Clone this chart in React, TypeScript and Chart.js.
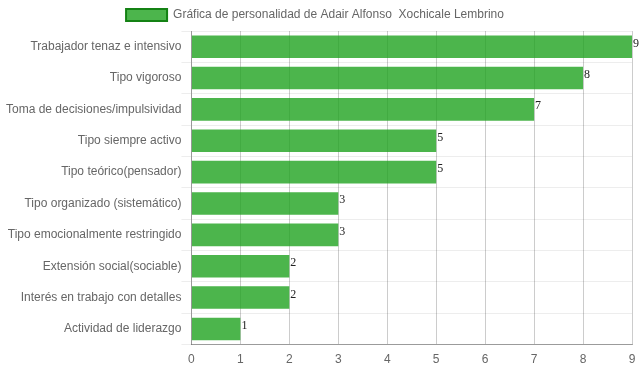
import React, { useEffect, useRef } from "react";
import { Chart, registerables } from "chart.js";

Chart.register(...registerables);

const categories = [
  "Trabajador tenaz e intensivo",
  "Tipo vigoroso",
  "Toma de decisiones/impulsividad",
  "Tipo siempre activo",
  "Tipo teórico(pensador)",
  "Tipo organizado (sistemático)",
  "Tipo emocionalmente restringido",
  "Extensión social(sociable)",
  "Interés en trabajo con detalles",
  "Actividad de liderazgo",
];
const values = [9, 8, 7, 5, 5, 3, 3, 2, 2, 1];
const seriesLabel = "Gráfica de personalidad de Adair Alfonso  Xochicale Lembrino";

const valueLabels = {
  id: "valueLabels",
  afterDatasetsDraw(chart: any) {
    const ctx = chart.ctx;
    const meta = chart.getDatasetMeta(0);
    ctx.save();
    ctx.font = "12px 'Liberation Serif', serif";
    ctx.fillStyle = "#222";
    ctx.textAlign = "left";
    ctx.textBaseline = "alphabetic";
    meta.data.forEach((bar: any, i: number) => {
      ctx.fillText(String(values[i]), bar.x + 1, bar.y);
    });
    ctx.restore();
  },
};

const legendShift = {
  id: "legendShift",
  afterLayout(chart: any) {
    if (chart.legend) {
      chart.legend.left -= 15;
    }
  },
};

const FONT = "'Liberation Sans', Arial, sans-serif";

export default function App() {
  const ref = useRef<HTMLCanvasElement>(null);
  useEffect(() => {
    if (!ref.current) return;
    const chart = new Chart(ref.current, {
      type: "bar",
      data: {
        labels: categories,
        datasets: [
          {
            label: seriesLabel,
            data: values,
            backgroundColor: "rgba(31,162,31,0.8)",
            borderColor: "rgb(20,130,20)",
            borderWidth: 0,
          },
        ],
      },
      options: {
        indexAxis: "y",
        animation: false,
        responsive: true,
        maintainAspectRatio: false,
        layout: { padding: { left: 6, right: 0, top: 1, bottom: -3 } },
        font: { family: FONT, size: 12 },
        color: "#666",
        plugins: {
          tooltip: { enabled: false },
          legend: {
            position: "top",
            labels: {
              color: "#666",
              boxWidth: 41,
              boxHeight: 12,
              padding: 8,
              font: { family: FONT, size: 12 },
              generateLabels: (chart: any) =>
                Chart.defaults.plugins.legend.labels
                  .generateLabels(chart)
                  .map((l: any) => ({ ...l, strokeStyle: "rgb(20,130,20)", lineWidth: 2 })),
            },
          },
        },
        scales: {
          x: {
            min: 0,
            max: 9,
            afterFit: (scale: any) => {
              scale.paddingRight = 7;
            },
            ticks: {
              stepSize: 1,
              color: "#666",
              font: { family: FONT, size: 12 },
              padding: 8,
            },
            grid: {
              color: "rgba(0,0,0,0.2)",
              drawTicks: false,
            },
            border: { color: "rgba(0,0,0,0.35)" },
          },
          y: {
            ticks: {
              color: "#666",
              font: { family: FONT, size: 12 },
              padding: 0,
            },
            grid: {
              color: "rgba(0,0,0,0.07)",
              tickLength: 10,
            },
            border: { color: "rgba(0,0,0,0.25)" },
          },
        },
      },
      plugins: [valueLabels, legendShift],
    });
    return () => chart.destroy();
  }, []);
  return (
    <div style={{ width: 639, height: 372, position: "absolute", left: 0, top: 0 }}>
      <canvas ref={ref} />
    </div>
  );
}
